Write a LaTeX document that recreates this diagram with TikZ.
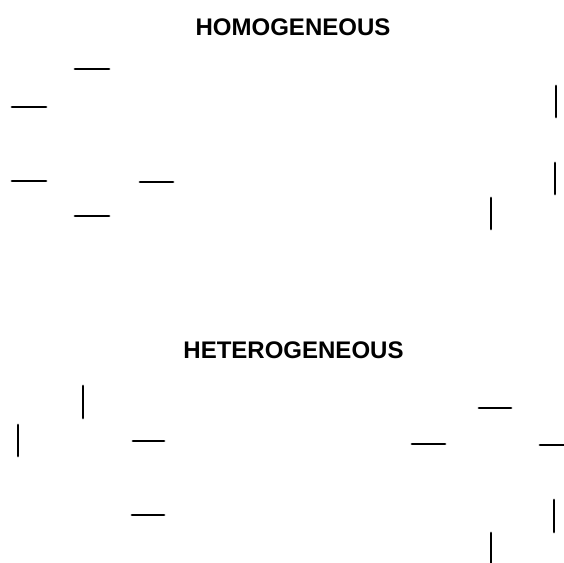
\documentclass[tikz,border=0pt]{standalone}
\usepackage{fontspec}
\setsansfont{Liberation Sans}
\usepackage{tikz}
\tikzset{
  bar/.style={line width=1.4pt, line cap=round},
  ttl/.style={font=\sffamily\bfseries\fontsize{12}{14}\selectfont, inner sep=0pt},
}

\begin{document}
\begin{tikzpicture}[x=0.5pt, y=-0.5pt]
  \useasboundingbox (0,0) rectangle (564,563);
  % upper field
  \node[ttl] (homo) at (293,27) {HOMOGENEOUS};
  \draw[bar] (75,69) -- (109,69);
  \draw[bar] (12,107) -- (46,107);
  \draw[bar] (12,181) -- (46,181);
  \draw[bar] (140,182) -- (173,182);
  \draw[bar] (75,216) -- (109,216);
  \draw[bar] (556,86) -- (556,117);
  \draw[bar] (555,163) -- (555,194);
  \draw[bar] (491,198) -- (491,229);
  % lower field
  \node[ttl] (hetero) at (293.5,350) {HETEROGENEOUS};
  \draw[bar] (83,386) -- (83,418);
  \draw[bar] (18,425) -- (18,456);
  \draw[bar] (133,441) -- (164,441);
  \draw[bar] (132,515) -- (164,515);
  \draw[bar] (479,408) -- (511,408);
  \draw[bar] (412,444) -- (445,444);
  \draw[bar] (540,445) -- (564,445);
  \draw[bar] (554,500) -- (554,532);
  \draw[bar] (491,533) -- (491,563);
\end{tikzpicture}
\end{document}
